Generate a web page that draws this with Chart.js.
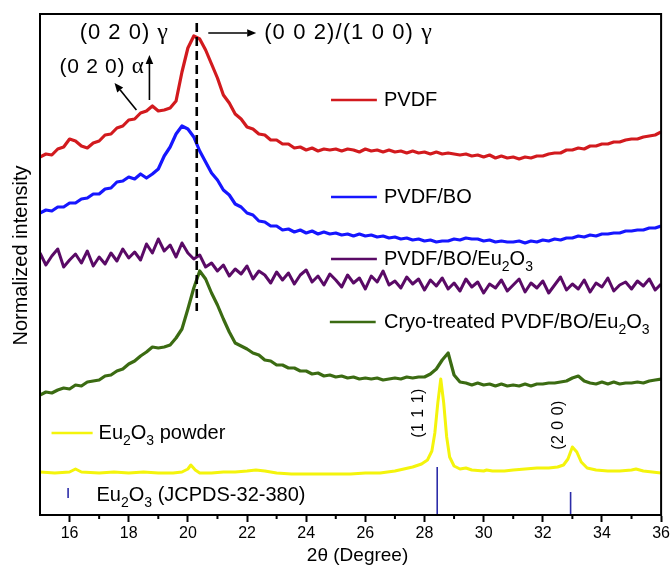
<!DOCTYPE html>
<html><head><meta charset="utf-8">
<script src="https://cdn.jsdelivr.net/npm/chart.js@4.4.1/dist/chart.umd.min.js"></script>
<style>html,body{margin:0;padding:0;background:#fff}#wrap{width:672px;height:566px}</style>
</head><body><div id="wrap"><canvas id="c" width="672" height="566"></canvas></div>
<script>
// ---------- data ----------
const twoTheta = [
15.0,15.2,15.4,15.6,15.8,16.0,16.2,16.4,16.6,16.8,
17.0,17.2,17.4,17.6,17.8,18.0,18.2,18.4,18.6,18.8,
19.0,19.2,19.4,19.6,19.8,20.0,20.2,20.4,20.6,20.8,
21.0,21.2,21.4,21.6,21.8,22.0,22.2,22.4,22.6,22.8,
23.0,23.2,23.4,23.6,23.8,24.0,24.2,24.4,24.6,24.8,
25.0,25.2,25.4,25.6,25.8,26.0,26.2,26.4,26.6,26.8,
27.0,27.2,27.4,27.6,27.8,28.0,28.2,28.4,28.6,28.8,
29.0,29.2,29.4,29.6,29.8,30.0,30.2,30.4,30.6,30.8,
31.0,31.2,31.4,31.6,31.8,32.0,32.2,32.4,32.6,32.8,
33.0,33.2,33.4,33.6,33.8,34.0,34.2,34.4,34.6,34.8,
35.0,35.2,35.4,35.6,35.8,36.0];

const pvdf = [
358,361,360,366,368,376,374,369,367,372,
374,380,381,387,389,395,396,402,404,409,
404,405,407,414,443,467,479,476,465,451,
437,420,412,401,396,388,386,381,380,375,
375,371,371,367,368,365,367,364,366,365,
366,364,366,365,363,366,364,365,363,365,
363,364,362,364,362,363,361,363,361,362,
361,360,361,359,360,358,360,357,359,357,
358,356,358,357,359,359,361,362,362,365,
365,367,366,369,369,371,371,373,373,375,
376,376,378,379,380,383];

const pvdfBO = [
302,305,304,308,308,312,312,316,317,321,
321,326,327,333,334,338,336,341,337,341,
346,359,368,381,389,386,378,364,353,342,
335,325,320,311,308,302,300,294,293,289,
289,285,286,283,285,282,284,281,283,281,
282,280,281,279,281,279,280,278,279,277,
278,276,277,275,276,274,275,273,274,274,
276,275,277,276,276,274,275,273,274,273,
273,274,272,274,273,275,274,276,275,277,
277,279,278,280,279,281,281,282,282,284,
284,285,285,287,287,289];

const pvdfBOEu = [
262,250,259,266,248,255,261,252,264,249,
258,251,262,254,266,257,263,255,271,262,
276,264,270,258,272,262,256,260,248,252,
244,250,239,246,241,249,236,244,240,232,
243,235,242,231,240,245,233,239,230,241,
235,228,240,232,237,226,239,233,244,230,
234,227,238,231,236,225,235,229,237,226,
232,224,236,228,233,222,231,227,235,224,
230,236,223,232,227,234,222,230,238,225,
231,226,235,223,232,228,237,224,230,233,
226,234,229,236,225,231];

const cryoPvdfBOEu = [
120,123,122,125,127,126,130,129,133,134,
135,139,140,144,146,151,154,159,163,168,
167,168,170,177,186,206,227,244,236,222,
210,196,183,172,169,166,162,160,155,154,
150,150,147,147,144,144,141,142,139,140,
138,139,137,138,136,137,136,137,135,136,
137,136,138,137,138,138,141,146,155,162,
140,133,132,130,132,130,131,129,131,129,
130,129,131,129,131,131,132,132,133,134,
137,139,134,132,131,133,131,133,131,132,
132,133,132,134,135,136];

const eu2o3PowderX = [
15.0,15.5,16.0,16.2,16.4,17.0,17.5,18.0,18.5,19.0,
19.5,19.8,20.0,20.1,20.25,20.4,20.8,21.2,21.6,22.0,
22.3,22.6,23.0,23.5,24.0,24.5,25.0,25.5,26.0,26.5,
27.0,27.3,27.6,27.9,28.1,28.25,28.35,28.45,28.55,28.65,
28.75,28.85,29.0,29.2,29.4,29.6,30.0,30.1,30.3,30.7,
31.0,31.4,31.8,32.2,32.5,32.7,32.85,33.0,33.15,33.3,
33.5,33.8,34.2,34.6,35.0,35.15,35.4,35.7,36.0];
const eu2o3Powder = [
43,42,43,46,43,42,43,42,43,42,
42,43,46,50,45,42,42,43,43,44,
45,44,42,41,41,41,41,41,42,42,
44,46,48,51,55,64,82,112,136,112,
78,58,49,46,47,45,44,45,44,44,
45,46,47,47,48,50,56,68,63,53,
47,45,44,44,45,46,44,43,42];

const jcpdsPos = [28.43, 32.94];
const jcpdsHeight = [48, 23];

const xTicks = [16,18,20,22,24,26,28,30,32,34,36];
const xMinorTicks = [17,19,21,23,25,27,29,31,33,35];

const seriesNames = ['PVDF','PVDF/BO','PVDF/BO/Eu_2O_3','Cryo-treated PVDF/BO/Eu_2O_3','Eu_2O_3 powder'];
const stickName = 'Eu_2O_3 (JCPDS-32-380)';
const colors = ['#d21a1e','#1616ff','#5a0a66','#3b6b12','#f4f40c'];
const stickColor = '#2c2ca8';

// ---------- layout of annotations (data coordinates) ----------
const FONT = '"Liberation Sans", Arial, Helvetica, sans-serif';
const GREEK_FONT = '"Liberation Serif", "DejaVu Serif", serif';
const legendLayout = [
  {x1:24.84, x2:26.39, tx:26.63, y:415},
  {x1:24.84, x2:26.39, tx:26.63, y:318},
  {x1:24.84, x2:26.39, tx:26.63, y:256},
  {x1:24.80, x2:26.35, tx:26.63, y:193},
  {x1:15.39, x2:16.78, tx:16.98, y:82}
];
const stickLegend = {x:15.95, y1:17, y2:27, tx:16.91, ty:20};
const notes = [
  {text:'(0 2 0) \u03b3', x:16.34, y:482, size:22, ls:1.0},
  {text:'(0 0 2)/(1 0 0) \u03b3', x:22.58, y:482, size:22, ls:1.1},
  {text:'(0 2 0) \u03b1', x:15.66, y:448, size:21, ls:0.7}
];
const rotNotes = [
  {text:'(1 1 1)', x:27.81, y:102, size:16},
  {text:'(2 0 0)', x:32.53, y:90, size:16}
];
const arrows = [
  [18.26,405,17.52,432],
  [18.70,415,18.70,460],
  [20.69,482,22.31,482]
];
const dashLine = {x:20.30, y1:492, y2:204};

// ---------- helpers ----------
function segs(str){
  const out=[]; let buf='';
  const flush=()=>{ if(buf) out.push([buf,0]); buf=''; };
  for(let i=0;i<str.length;i++){
    const c=str[i];
    if(c==='_'){ flush(); out.push([str[i+1],1]); i++; }
    else if(/[\u0370-\u03ff]/.test(c)){ flush(); out.push([c,2]); }
    else buf+=c;
  }
  flush();
  return out;
}
function plain(str){ return str.replace(/_/g,''); }
function drawRich(ctx, str, x, y, size, ls){
  const sub = Math.round(size*0.68);
  ctx.textBaseline='middle'; ctx.textAlign='left';
  ctx.letterSpacing = (ls||0)+'px';
  let cx = x;
  segs(str).forEach(([t,k])=>{
    if(k===1) ctx.font = sub+'px '+FONT;
    else if(k===2) ctx.font = (size+2)+'px '+GREEK_FONT;
    else ctx.font = size+'px '+FONT;
    ctx.fillText(t, cx, k===1 ? y+size*0.42 : y);
    cx += ctx.measureText(t).width;
  });
  ctx.letterSpacing='0px';
}
function arrow(ctx,x1,y1,x2,y2){
  const head=9, w=3.8, ang=Math.atan2(y2-y1,x2-x1);
  const bx=x2-head*Math.cos(ang), by=y2-head*Math.sin(ang);
  ctx.beginPath(); ctx.moveTo(x1,y1); ctx.lineTo(bx,by); ctx.stroke();
  ctx.beginPath(); ctx.moveTo(x2,y2);
  ctx.lineTo(bx+w*Math.sin(ang), by-w*Math.cos(ang));
  ctx.lineTo(bx-w*Math.sin(ang), by+w*Math.cos(ang));
  ctx.closePath(); ctx.fill();
}

// ---------- datasets ----------
const curveValues = [pvdf, pvdfBO, pvdfBOEu, cryoPvdfBOEu];
const curveWidths = [3.2, 3.2, 3.0, 3.2];
const datasets = curveValues.map((vals,i)=>({
  label: plain(seriesNames[i]),
  data: twoTheta.map((t,k)=>({x:t,y:vals[k]})),
  borderColor: colors[i], borderWidth: curveWidths[i], pointRadius: 0, tension: 0,
  borderJoinStyle:'round', fill:false
}));
datasets.push({
  label: plain(seriesNames[4]),
  data: eu2o3PowderX.map((t,k)=>({x:t,y:eu2o3Powder[k]})),
  borderColor: colors[4], borderWidth: 3.0, pointRadius: 0, tension: 0,
  borderJoinStyle:'round', fill:false
});
jcpdsPos.forEach((p,i)=>datasets.push({
  label: plain(stickName),
  data: [{x:p,y:0},{x:p,y:jcpdsHeight[i]}],
  borderColor: stickColor, borderWidth: 1.6, pointRadius: 0, fill:false
}));

// ---------- overlay plugin ----------
const overlay = {
  id:'overlay',
  afterDraw(chart){
    const {ctx, chartArea:a, scales:{x,y}} = chart;
    const px=v=>x.getPixelForValue(v), py=v=>y.getPixelForValue(v);
    ctx.save();
    ctx.fillStyle='#000'; ctx.strokeStyle='#000';
    // dashed marker line
    ctx.setLineDash([9,5]); ctx.lineWidth=2.6;
    ctx.beginPath(); ctx.moveTo(px(dashLine.x),py(dashLine.y1)); ctx.lineTo(px(dashLine.x),py(dashLine.y2)); ctx.stroke();
    ctx.setLineDash([]);
    // arrows
    ctx.lineWidth=1.6;
    arrows.forEach(r=>arrow(ctx,px(r[0]),py(r[1]),px(r[2]),py(r[3])));
    // notes
    notes.forEach(n=>drawRich(ctx,n.text,px(n.x),py(n.y),n.size,n.ls));
    rotNotes.forEach(n=>{
      ctx.save(); ctx.translate(px(n.x),py(n.y)); ctx.rotate(-Math.PI/2);
      ctx.font=n.size+'px '+FONT; ctx.textAlign='center'; ctx.textBaseline='middle';
      ctx.letterSpacing='0.5px';
      ctx.fillText(n.text,0,0); ctx.restore();
    });
    // legend
    legendLayout.forEach((L,i)=>{
      ctx.strokeStyle=colors[i]; ctx.lineWidth=2.6;
      ctx.beginPath(); ctx.moveTo(px(L.x1),py(L.y)); ctx.lineTo(px(L.x2),py(L.y)); ctx.stroke();
      ctx.fillStyle='#000';
      drawRich(ctx,seriesNames[i],px(L.tx),py(L.y),20,0);
    });
    ctx.strokeStyle=stickColor; ctx.lineWidth=1.6;
    ctx.beginPath(); ctx.moveTo(px(stickLegend.x),py(stickLegend.y1)); ctx.lineTo(px(stickLegend.x),py(stickLegend.y2)); ctx.stroke();
    ctx.fillStyle='#000';
    drawRich(ctx,stickName,px(stickLegend.tx),py(stickLegend.ty),20,0);
    // frame
    ctx.strokeStyle='#000'; ctx.lineWidth=2;
    ctx.strokeRect(a.left,a.top,a.right-a.left,a.bottom-a.top);
    // minor ticks
    ctx.lineWidth=2;
    xMinorTicks.forEach(v=>{ctx.beginPath(); ctx.moveTo(px(v),a.bottom); ctx.lineTo(px(v),a.bottom+4); ctx.stroke();});
    // axis titles
    ctx.font='19px '+FONT; ctx.textAlign='center'; ctx.textBaseline='middle';
    ctx.fillText('2\u03b8 (Degree)', (a.left+a.right)/2+7, a.bottom+41);
    ctx.save(); ctx.translate(21,(a.top+a.bottom)/2-9); ctx.rotate(-Math.PI/2);
    ctx.font='20px '+FONT; ctx.fillText('Normalized intensity',0,0); ctx.restore();
    ctx.restore();
  }
};

Chart.defaults.font.family = FONT;
new Chart(document.getElementById('c'), {
  type:'line',
  data:{datasets},
  options:{
    responsive:false, animation:false, devicePixelRatio:1,
    layout:{padding:{top:14,right:9,left:0,bottom:0}},
    plugins:{legend:{display:false}, tooltip:{enabled:false}},
    scales:{
      x:{type:'linear', min:15, max:36,
        afterBuildTicks:s=>{s.ticks=xTicks.map(v=>({value:v}));},
        afterFit:s=>{s.height=51;},
        ticks:{font:{size:16}, color:'#000', padding:2, maxRotation:0, autoSkip:false},
        grid:{drawOnChartArea:false, drawTicks:true, tickLength:7, tickWidth:2, tickColor:'#000'},
        border:{display:true, color:'#000', width:2}
      },
      y:{type:'linear', min:0, max:501,
        afterFit:s=>{s.width=40;},
        ticks:{display:false},
        grid:{display:false, drawTicks:false},
        border:{display:true, color:'#000', width:2}
      }
    }
  },
  plugins:[overlay]
});
</script></body></html>
